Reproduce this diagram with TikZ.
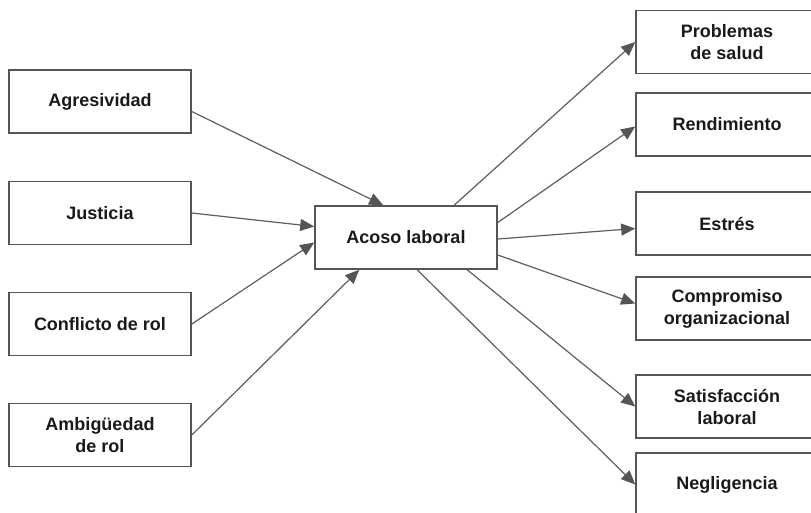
\documentclass[tikz,border=0pt]{standalone}
\usepackage{fontspec}
\setmainfont{Liberation Sans}
\usetikzlibrary{arrows.meta}
\definecolor{edge}{HTML}{555555}
\definecolor{wire}{HTML}{5E5E5E}
\definecolor{ink}{HTML}{1A1A1A}
\tikzset{
  box/.style={draw=edge, line width=1.6pt, fill=white, minimum width=182pt,
    minimum height=63pt, inner sep=0pt, align=center, text=ink,
    font=\fontsize{18pt}{22pt}\selectfont\bfseries},
  link/.style={draw=wire, line width=1.2pt,
    -{Triangle[length=14pt,width=12pt,fill=edge,color=edge]}}
}
\begin{document}
\begin{tikzpicture}[x=1pt,y=-1pt]
\clip (0,0) rectangle (811,512);
\fill[white] (0,0) rectangle (811,512);

% causes
\node[box] (agr) at (100,101.5) {Agresividad};
\node[box] (jus) at (100,213) {Justicia};
\node[box] (con) at (100,324) {Conflicto de rol};
\node[box] (amb) at (100,435) {Ambigüedad\\de rol};

% central construct
\node[box] (aco) at (406,237.5) {Acoso laboral};

% consequences
\node[box] (prob) at (727,42) {Problemas\\de salud};
\node[box] (rend) at (727,124.5) {Rendimiento};
\node[box] (est) at (727,223.5) {Estrés};
\node[box] (comp) at (727,308.5) {Compromiso\\organizacional};
\node[box] (sat) at (727,406.5) {Satisfacción\\laboral};
\node[box] (neg) at (727,484.5) {Negligencia};

% incoming arrows
\draw[link] ([yshift=-10pt]agr.east) -- ([xshift=69pt]aco.north west);
\draw[link] (jus.east) -- ([yshift=11pt]aco.west);
\draw[link] (con.east) -- ([yshift=-5pt]aco.west);
\draw[link] (amb.east) -- ([xshift=45pt]aco.south west);

% outgoing arrows
\draw[link] ([xshift=140pt]aco.north west) -- (prob.west);
\draw[link] ([yshift=15pt]aco.east) -- ([yshift=-2pt]rend.west);
\draw[link] ([yshift=-1.5pt]aco.east) -- ([yshift=-5pt]est.west);
\draw[link] ([yshift=-17.5pt]aco.east) -- ([yshift=5pt]comp.west);
\draw[link] ([xshift=153pt]aco.south west) -- (sat.west);
\draw[link] ([xshift=103pt]aco.south west) -- (neg.west);
\end{tikzpicture}
\end{document}
